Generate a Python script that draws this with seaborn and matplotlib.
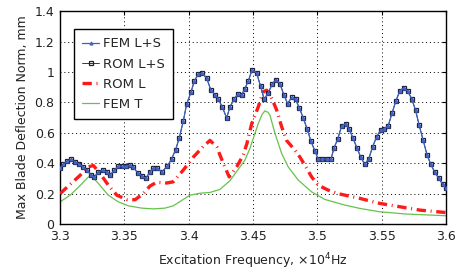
import numpy as np
import pandas as pd
import matplotlib
matplotlib.use("Agg")
import matplotlib.pyplot as plt
import seaborn as sns

# L+S response (FEM and ROM coincide)
freq_ls = [3.3000, 3.3026, 3.3057, 3.3085, 3.3117, 3.3148, 3.3181, 3.3207, 3.3241, 3.3267,
           3.3298, 3.3332, 3.3363, 3.3389, 3.3422, 3.3453, 3.3487, 3.3513, 3.3544, 3.3570,
           3.3604, 3.3639, 3.3666, 3.3699, 3.3725, 3.3754, 3.3790, 3.3834, 3.3868, 3.3899,
           3.3927, 3.3958, 3.3984, 3.4018, 3.4044, 3.4075, 3.4106, 3.4140, 3.4171, 3.4204,
           3.4230, 3.4261, 3.4295, 3.4321, 3.4352, 3.4381, 3.4412, 3.4437, 3.4463, 3.4494,
           3.4528, 3.4559, 3.4587, 3.4618, 3.4650, 3.4678, 3.4709, 3.4740, 3.4769, 3.4800,
           3.4831, 3.4859, 3.4890, 3.4922, 3.4950, 3.4981, 3.5007, 3.5038, 3.5072, 3.5106,
           3.5131, 3.5158, 3.5189, 3.5220, 3.5248, 3.5279, 3.5310, 3.5339, 3.5370, 3.5401,
           3.5430, 3.5461, 3.5492, 3.5520, 3.5551, 3.5582, 3.5611, 3.5642, 3.5673, 3.5702,
           3.5733, 3.5764, 3.5792, 3.5823, 3.5854, 3.5883, 3.5914, 3.5945, 3.5974, 3.6000]
defl_ls = [0.366, 0.394, 0.416, 0.425, 0.410, 0.394, 0.376, 0.355, 0.322, 0.310,
           0.343, 0.355, 0.343, 0.322, 0.355, 0.380, 0.380, 0.380, 0.387, 0.372,
           0.337, 0.315, 0.300, 0.343, 0.366, 0.370, 0.343, 0.380, 0.430, 0.490,
           0.567, 0.676, 0.788, 0.867, 0.941, 0.985, 0.990, 0.960, 0.884, 0.850,
           0.823, 0.770, 0.698, 0.770, 0.820, 0.854, 0.850, 0.890, 0.940, 1.015,
           0.994, 0.906, 0.820, 0.862, 0.920, 0.950, 0.924, 0.850, 0.792, 0.832,
           0.820, 0.766, 0.700, 0.622, 0.547, 0.481, 0.427, 0.427, 0.427, 0.425,
           0.503, 0.556, 0.645, 0.660, 0.624, 0.563, 0.497, 0.438, 0.392, 0.431,
           0.508, 0.573, 0.617, 0.628, 0.645, 0.731, 0.810, 0.875, 0.897, 0.875,
           0.825, 0.749, 0.650, 0.552, 0.453, 0.392, 0.340, 0.300, 0.263, 0.234]

# ROM linear only
freq_l = [3.3000, 3.3064, 3.3155, 3.3220, 3.3259, 3.3311, 3.3375, 3.3441, 3.3518, 3.3583,
          3.3647, 3.3699, 3.3751, 3.3829, 3.3880, 3.3958, 3.4036, 3.4113, 3.4166, 3.4218,
          3.4269, 3.4315, 3.4373, 3.4424, 3.4453, 3.4490, 3.4541, 3.4580, 3.4606, 3.4639,
          3.4684, 3.4723, 3.4761, 3.4826, 3.4865, 3.4904, 3.4956, 3.5007, 3.5085, 3.5162,
          3.5331, 3.5486, 3.5642, 3.5797, 3.6000]
defl_l = [0.200, 0.250, 0.320, 0.376, 0.385, 0.333, 0.256, 0.190, 0.162, 0.160,
          0.200, 0.250, 0.275, 0.270, 0.278, 0.355, 0.440, 0.510, 0.550, 0.507,
          0.400, 0.310, 0.376, 0.453, 0.530, 0.660, 0.770, 0.870, 0.880, 0.840,
          0.750, 0.640, 0.550, 0.486, 0.440, 0.387, 0.310, 0.256, 0.223, 0.200,
          0.169, 0.136, 0.114, 0.092, 0.076]

# FEM torsion only
freq_t = [3.3000, 3.3078, 3.3155, 3.3220, 3.3256, 3.3298, 3.3375, 3.3453, 3.3531, 3.3635,
          3.3725, 3.3816, 3.3880, 3.3958, 3.4010, 3.4088, 3.4166, 3.4243, 3.4321, 3.4399,
          3.4437, 3.4476, 3.4541, 3.4570, 3.4593, 3.4616, 3.4632, 3.4671, 3.4723, 3.4774,
          3.4852, 3.4956, 3.5059, 3.5214, 3.5331, 3.5486, 3.5694, 3.6000]
defl_t = [0.146, 0.190, 0.252, 0.310, 0.305, 0.267, 0.190, 0.146, 0.120, 0.105,
          0.100, 0.105, 0.120, 0.162, 0.190, 0.203, 0.208, 0.228, 0.285, 0.376,
          0.420, 0.497, 0.660, 0.720, 0.744, 0.735, 0.716, 0.596, 0.464, 0.376,
          0.289, 0.212, 0.162, 0.125, 0.103, 0.081, 0.066, 0.055]

sns.set_style("white")
plt.rcParams['font.family'] = ['DejaVu Sans']

fig = plt.figure(figsize=(4.55, 2.7), dpi=100)
ax = fig.add_axes([0.132, 0.170, 0.848, 0.789])

df_ls = pd.DataFrame({"f": freq_ls, "d": defl_ls})
df_l = pd.DataFrame({"f": freq_l, "d": defl_l})
df_t = pd.DataFrame({"f": freq_t, "d": defl_t})

sns.lineplot(data=df_t, x="f", y="d", ax=ax, sort=False, estimator=None,
             color="#66c24a", lw=0.9, label="FEM T", zorder=2)
sns.lineplot(data=df_l, x="f", y="d", ax=ax, sort=False, estimator=None,
             color="#ff1a1a", lw=2.4, linestyle=(0, (2.8, 1.4, 0.3, 1.4)),
             label="ROM L", zorder=3)
sns.lineplot(data=df_ls, x="f", y="d", ax=ax, sort=False, estimator=None,
             color="#1a1a1a", lw=0.6, marker="s", markersize=3.0,
             markerfacecolor="none", markeredgecolor="#1c1f33", markeredgewidth=0.9,
             label="ROM L+S", zorder=4)
sns.lineplot(data=df_ls, x="f", y="d", ax=ax, sort=False, estimator=None,
             color="#3f5fc0", lw=0.9, marker="^", markersize=2.2,
             markerfacecolor="#4a6fd0", markeredgecolor="#3f5fc0",
             label="FEM L+S", zorder=5)

ax.set_xlim(3.3, 3.6)
ax.set_ylim(0, 1.4)
ax.set_xticks([3.3, 3.35, 3.4, 3.45, 3.5, 3.55, 3.6])
ax.set_xticklabels(["3.3", "3.35", "3.4", "3.45", "3.5", "3.55", "3.6"])
ax.set_yticks([0, 0.2, 0.4, 0.6, 0.8, 1.0, 1.2, 1.4])
ax.set_yticklabels(["0", "0.2", "0.4", "0.6", "0.8", "1", "1.2", "1.4"])
ax.tick_params(direction="in", top=True, right=True, length=3, labelsize=9,
               color="black", labelcolor="#222222", pad=4)
ax.grid(True, color="black", linestyle=(0, (1, 3)), linewidth=0.7)
for s in ax.spines.values():
    s.set_color("black")
    s.set_linewidth(1.0)

ax.set_xlabel(r"Excitation Frequency, $\times 10^4$Hz", fontsize=9, color="#222222",
              labelpad=6)
ax.set_ylabel("Max Blade Deflection Norm, mm", fontsize=9, color="#222222")

handles, labels = ax.get_legend_handles_labels()
order = [3, 2, 1, 0]
leg = ax.legend([handles[i] for i in order], [labels[i] for i in order],
                loc="upper left", bbox_to_anchor=(0.02, 0.945), fontsize=9.5,
                fancybox=False, edgecolor="black", framealpha=1, handlelength=1.3,
                handletextpad=0.3, borderpad=0.6, labelspacing=0.55)
leg.get_frame().set_linewidth(1.0)

fig.savefig("out.png", dpi=100)
